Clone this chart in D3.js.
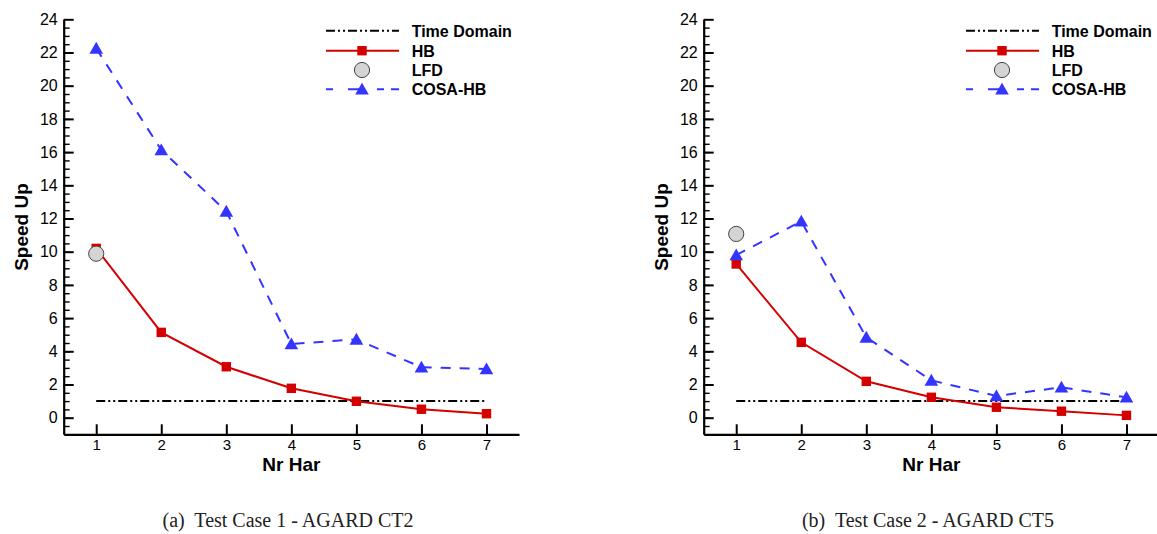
<!DOCTYPE html>
<html>
<head>
    <title>Speed Up vs Nr Har</title>
    <script src="https://d3js.org/d3.v7.min.js"></script>
    <style>
        body { margin: 0; background: #fff; }
        .tick text { font-family: "Liberation Sans", Arial, sans-serif; fill: #000; }
        .title { font-family: "Liberation Sans", Arial, sans-serif; font-weight: bold; fill: #000; }
        .caption { font-family: "Liberation Serif", "Times New Roman", serif; fill: #222; white-space: pre; }
    </style>
</head>
<body>
    <div id="chart"></div>

    <script>
        // harmonics on the x axis
        const harmonics = [1, 2, 3, 4, 5, 6, 7];
        const timeDomain = [1, 1, 1, 1, 1, 1, 1];

        // Test Case 1 - AGARD CT2
        const hb1 = [10.2, 5.14, 3.07, 1.77, 0.99, 0.51, 0.24];
        const lfd1 = [9.88];
        const cosa1 = [22.25, 16.13, 12.43, 4.44, 4.72, 3.04, 2.93];

        // Test Case 2 - AGARD CT5
        const hb2 = [9.26, 4.54, 2.19, 1.23, 0.63, 0.39, 0.14];
        const lfd2 = [11.07];
        const cosa2 = [9.80, 11.83, 4.84, 2.25, 1.31, 1.83, 1.23];

        const legendLabels = ["Time Domain", "HB", "LFD", "COSA-HB"];
        const captions = ["(a)  Test Case 1 - AGARD CT2", "(b)  Test Case 2 - AGARD CT5"];

        const width = 1157;
        const height = 534;
        const red = "#d40000";
        const blue = "#3434ff";

        const svg = d3.select("#chart")
            .append("svg")
            .attr("width", width)
            .attr("height", height);

        function triangle(g, cx, cy) {
            g.append("path")
                .attr("d", `M${cx},${cy - 6.5}L${cx + 6.8},${cy + 5.3}L${cx - 6.8},${cy + 5.3}Z`)
                .attr("fill", blue);
        }

        function square(g, cx, cy) {
            g.append("rect")
                .attr("x", cx - 4.7).attr("y", cy - 4.7)
                .attr("width", 9.4).attr("height", 9.4)
                .attr("fill", red);
        }

        function circle(g, cx, cy) {
            g.append("circle")
                .attr("cx", cx).attr("cy", cy).attr("r", 7.6)
                .attr("fill", "#d4d4d4")
                .attr("stroke", "#444")
                .attr("stroke-width", 1);
        }

        function drawPanel(dx, hb, lfd, cosa, caption) {
            const g = svg.append("g").attr("transform", `translate(${dx},0)`);

            const x = d3.scaleLinear().domain([0.5, 7.5]).range([63.7, 519]);
            const y = d3.scaleLinear().domain([-1, 24]).range([434.3, 19.3]);

            // minor ticks
            g.append("g")
                .attr("transform", `translate(${x(0.5)},0)`)
                .call(d3.axisLeft(y).tickValues(d3.range(-0.5, 24, 0.5)).tickSize(-6).tickFormat(""))
                .call(a => a.select(".domain").remove())
                .call(a => a.selectAll("line").attr("stroke-width", 1.4));

            const yAxis = g.append("g")
                .attr("transform", `translate(${x(0.5)},0)`)
                .call(d3.axisLeft(y).tickValues(d3.range(0, 25, 2)).tickSize(-10).tickSizeOuter(0).tickPadding(6));
            yAxis.selectAll(".tick text").attr("font-size", 16);
            yAxis.selectAll("line").attr("stroke-width", 2);
            yAxis.select(".domain").attr("stroke-width", 2.2);

            const xAxis = g.append("g")
                .attr("transform", `translate(0,${y(-1)})`)
                .call(d3.axisBottom(x).tickValues(harmonics).tickSize(-10).tickSizeOuter(0).tickPadding(5).tickFormat(d3.format("d")));
            xAxis.selectAll(".tick text").attr("font-size", 15);
            xAxis.selectAll("line").attr("stroke-width", 2);
            xAxis.select(".domain").attr("stroke-width", 2.2);

            g.append("text").attr("class", "title")
                .attr("x", x(4)).attr("y", 471)
                .attr("text-anchor", "middle")
                .attr("font-size", 19)
                .text("Nr Har");

            g.append("text").attr("class", "title")
                .attr("transform", `translate(28,227) rotate(-90)`)
                .attr("text-anchor", "middle")
                .attr("font-size", 19)
                .text("Speed Up");

            const line = d3.line().x((d, i) => x(harmonics[i])).y(d => y(d));

            g.append("path").datum(timeDomain)
                .attr("d", line).attr("fill", "none")
                .attr("stroke", "#000").attr("stroke-width", 2)
                .attr("stroke-dasharray", "9,3,2,3,2,3");

            g.append("path").datum(hb)
                .attr("d", line).attr("fill", "none")
                .attr("stroke", red).attr("stroke-width", 2);
            hb.forEach((v, i) => square(g, x(harmonics[i]), y(v)));

            g.append("path").datum(cosa)
                .attr("d", line).attr("fill", "none")
                .attr("stroke", blue).attr("stroke-width", 2)
                .attr("stroke-dasharray", "10,9");
            cosa.forEach((v, i) => triangle(g, x(harmonics[i]), y(v)));

            lfd.forEach((v, i) => circle(g, x(harmonics[i]), y(v)));

            // legend
            const lg = g.append("g");
            const rows = [30.7, 50.7, 70, 89.3];
            const lx0 = 326, lx1 = 399, mx = 362;
            lg.append("line").attr("x1", lx0).attr("x2", lx1).attr("y1", rows[0]).attr("y2", rows[0])
                .attr("stroke", "#000").attr("stroke-width", 2).attr("stroke-dasharray", "9,3,2,3,2,3");
            lg.append("line").attr("x1", lx0).attr("x2", lx1).attr("y1", rows[1]).attr("y2", rows[1])
                .attr("stroke", red).attr("stroke-width", 2);
            square(lg, mx, rows[1]);
            circle(lg, mx, rows[2]);
            lg.append("line").attr("x1", lx0).attr("x2", lx1).attr("y1", rows[3]).attr("y2", rows[3])
                .attr("stroke", blue).attr("stroke-width", 2).attr("stroke-dasharray", "7,15,14,15,7");
            triangle(lg, mx, rows[3]);
            legendLabels.forEach((t, i) => {
                lg.append("text").attr("class", "title")
                    .attr("x", 411.7).attr("y", rows[i] + 5.9)
                    .attr("font-size", 16)
                    .text(t);
            });

            g.append("text").attr("class", "caption")
                .attr("x", 288).attr("y", 527)
                .attr("text-anchor", "middle")
                .attr("font-size", 20)
                .text(caption);
        }

        drawPanel(0, hb1, lfd1, cosa1, captions[0]);
        drawPanel(640, hb2, lfd2, cosa2, captions[1]);
    </script>
</body>
</html>
